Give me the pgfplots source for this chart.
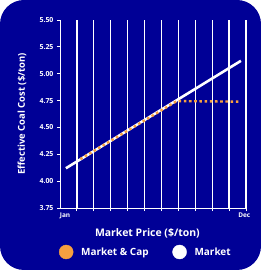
\documentclass[border=0pt]{standalone}
\usepackage{pgfplots}
\pgfplotsset{compat=1.18}
\usepackage{fontspec}
\setmainfont{Open Sans}
\definecolor{bgblue}{RGB}{0,0,150}
\definecolor{capor}{RGB}{247,160,64}
\begin{document}
\begin{tikzpicture}
\fill[bgblue, rounded corners=24bp] (-60bp,-62bp) rectangle (201bp,208bp);
\useasboundingbox (-60bp,-62bp) rectangle (201bp,208bp);
\begin{axis}[
  scale only axis, width=186bp, height=188bp,
  at={(0,0)}, anchor=south west,
  xmin=0, xmax=11, ymin=3.75, ymax=5.5,
  axis x line=bottom, axis y line=left,
  axis line style={white, line width=1pt, -},
  xtick={1,...,11}, xticklabels={},
  xmajorgrids, grid style={white, line width=1.2pt},
  major tick length=3bp,
  tick style={white, line width=1pt},
  xtick align=outside, ytick align=outside,
  extra x ticks={0.3,10.9}, extra x tick labels={Jan,Dec},
  extra x tick style={major tick length=0pt, grid=none, tick label style={font=\bfseries\fontsize{6.5}{7}\selectfont, white, yshift=-1bp}},
  ytick={3.75,4,4.25,4.5,4.75,5,5.25,5.5},
  yticklabel style={font=\bfseries\fontsize{7}{8}\selectfont, white, /pgf/number format/.cd, fixed, fixed zerofill, precision=2, assume math mode=true},
  xlabel={Market Price (\$/ton)},
  ylabel={Effective Coal Cost (\$/ton)},
  xlabel style={font=\bfseries\fontsize{10.5}{12}\selectfont, white, at={(axis description cs:0.47,-0.133)}, anchor=center},
  ylabel style={font=\bfseries\fontsize{9.5}{11}\selectfont, white, at={(axis description cs:-0.204,0.5)}, anchor=center},
  legend style={at={(rel axis cs:0.462,-0.234)}, anchor=center, draw=none, fill=none,
    legend columns=2, font=\bfseries\fontsize{10}{12}\selectfont, text=white,
    /tikz/every odd column/.append style={column sep=6bp},
    /tikz/every even column/.append style={column sep=22bp}},
  legend cell align=left,
]
\addlegendimage{only marks, mark=*, mark size=7bp, capor, mark options={draw=capor, fill=capor}}
\addlegendentry{Market \& Cap}
\addlegendimage{only marks, mark=*, mark size=7bp, white, mark options={draw=white, fill=white}}
\addlegendentry{Market}
\addplot[white, line width=2.6pt, forget plot] coordinates {(0.35,4.12) (10.7,5.12)};
\addplot[capor, line width=2.4pt, dash pattern=on 2.6bp off 2.6bp, forget plot] coordinates {(1.2,4.205) (6.9,4.745) (10.7,4.74)};
\end{axis}
\end{tikzpicture}
\end{document}
